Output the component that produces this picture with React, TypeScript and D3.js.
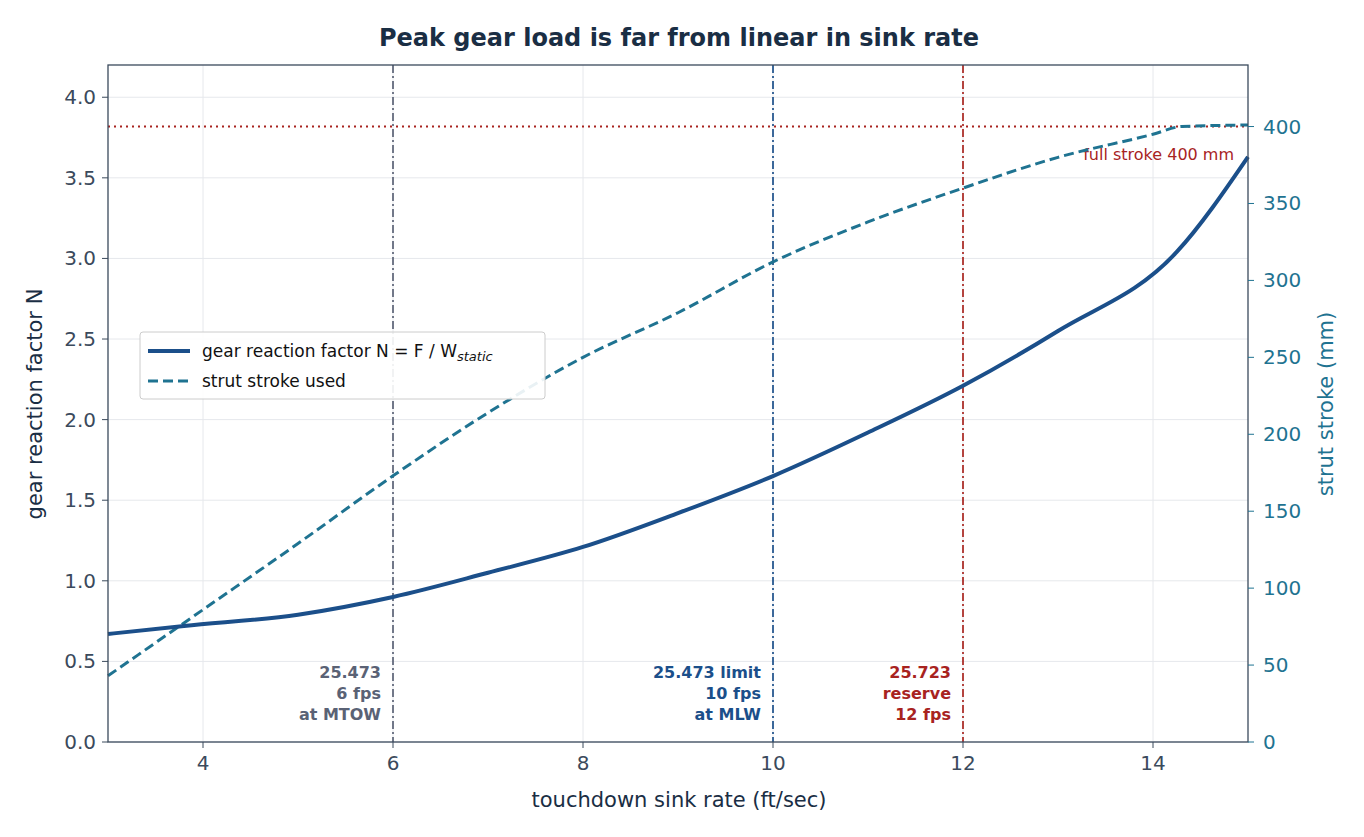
import * as d3 from "d3"

const sinkRate = [3, 3.8, 5, 6, 7, 8, 9, 10, 11, 12, 13, 14.25, 15]
const gearFactor = [0.67, 0.72, 0.79, 0.9, 1.05, 1.21, 1.42, 1.65, 1.92, 2.21, 2.55, 3.04, 3.63]
const strokeX = [3, 4, 5, 6, 7, 8, 9, 10, 11, 12, 13, 14, 14.3, 15]
const strokeUsed = [43, 86, 129, 173, 214, 250, 279, 312, 338, 360, 380, 395, 400, 401]
const xTicks = [4, 6, 8, 10, 12, 14]
const yTicks = [0, 0.5, 1, 1.5, 2, 2.5, 3, 3.5, 4]
const y2Ticks = [0, 50, 100, 150, 200, 250, 300, 350, 400]
const markers = [
  { x: 6, lines: ["25.473", "6 fps", "at MTOW"], color: "#5a6275" },
  { x: 10, lines: ["25.473 limit", "10 fps", "at MLW"], color: "#1b4f8a" },
  { x: 12, lines: ["25.723", "reserve", "12 fps"], color: "#a8231f" },
]

export default function App() {
  const L = 108, R = 1248, T = 65, B = 742
  const x = d3.scaleLinear().domain([3, 15]).range([L, R])
  const y = d3.scaleLinear().domain([0, 4.2]).range([B, T])
  const y2 = d3.scaleLinear().domain([0, 440]).range([B, T])
  const gearLine = d3.line<number>().x((_, i) => x(sinkRate[i])).y((d) => y(d)).curve(d3.curveMonotoneX)(gearFactor)
  const strokeLine = d3.line<number>().x((_, i) => x(strokeX[i])).y((d) => y2(d)).curve(d3.curveMonotoneX)(strokeUsed)
  const font = "DejaVu Sans"
  return (
    <svg width={1364} height={837} style={{ position: "absolute", left: 0, top: 0 }} fontFamily={font}>
      <rect width={1364} height={837} fill="#fff" />
      <text x={679} y={46} textAnchor="middle" fontSize={24} fontWeight="bold" fill="#1a2e44">Peak gear load is far from linear in sink rate</text>
      {xTicks.map((t) => <line key={t} x1={x(t)} x2={x(t)} y1={T} y2={B} stroke="#e6e8ec" />)}
      {yTicks.map((t) => <line key={t} x1={L} x2={R} y1={y(t)} y2={y(t)} stroke="#e6e8ec" />)}
      <line x1={L} x2={R} y1={y2(400)} y2={y2(400)} stroke="#a8231f" strokeWidth={2} strokeDasharray="2,4" />
      <text x={1234} y={160} textAnchor="end" fontSize={16} fill="#a8231f">full stroke 400 mm</text>
      {markers.map((m) => (
        <g key={m.x}>
          <line x1={x(m.x)} x2={x(m.x)} y1={T} y2={B} stroke={m.color} strokeOpacity={0.85} strokeWidth={2} strokeDasharray="8,3,2,3" />
          {m.lines.map((s, i) => (
            <text key={i} x={x(m.x) - 12} y={678 + i * 21} textAnchor="end" fontSize={16} fontWeight="bold" fill={m.color}>{s}</text>
          ))}
        </g>
      ))}
      <path d={strokeLine!} fill="none" stroke="#1f7391" strokeWidth={3} strokeDasharray="10,5" />
      <path d={gearLine!} fill="none" stroke="#1b4f8a" strokeWidth={4} />
      <rect x={L} y={T} width={R - L} height={B - T} fill="none" stroke="#3b4a5c" strokeWidth={1.3} />
      {xTicks.map((t) => (
        <g key={t}>
          <line x1={x(t)} x2={x(t)} y1={B} y2={B + 6} stroke="#3b4a5c" />
          <text x={x(t)} y={B + 28} textAnchor="middle" fontSize={20} fill="#3b4a5c">{t}</text>
        </g>
      ))}
      {yTicks.map((t) => (
        <g key={t}>
          <line x1={L - 6} x2={L} y1={y(t)} y2={y(t)} stroke="#3b4a5c" />
          <text x={L - 12} y={y(t) + 7} textAnchor="end" fontSize={20} fill="#3b4a5c">{t.toFixed(1)}</text>
        </g>
      ))}
      {y2Ticks.map((t) => (
        <g key={t}>
          <line x1={R} x2={R + 6} y1={y2(t)} y2={y2(t)} stroke="#1f7391" />
          <text x={R + 15} y={y2(t) + 7} fontSize={20} fill="#1f7391">{t}</text>
        </g>
      ))}
      <text x={679} y={807} textAnchor="middle" fontSize={21} fill="#1a2e44">touchdown sink rate (ft/sec)</text>
      <text transform="translate(42,404) rotate(-90)" textAnchor="middle" fontSize={21} fill="#1a2e44">gear reaction factor N</text>
      <text transform="translate(1333,404) rotate(-90)" textAnchor="middle" fontSize={21} fill="#1f7391">strut stroke (mm)</text>
      <rect x={140} y={332} width={405} height={67} rx={3} fill="#fff" fillOpacity={0.9} stroke="#ccc" />
      <line x1={148} x2={190} y1={351} y2={351} stroke="#1b4f8a" strokeWidth={4} />
      <text x={202} y={357} fontSize={17} fill="#111">gear reaction factor  N = F / W<tspan fontSize={13} fontStyle="italic" dy={4}>static</tspan></text>
      <line x1={148} x2={190} y1={381} y2={381} stroke="#1f7391" strokeWidth={3} strokeDasharray="10,5" />
      <text x={202} y={387} fontSize={17} fill="#111">strut stroke used</text>
    </svg>
  )
}
